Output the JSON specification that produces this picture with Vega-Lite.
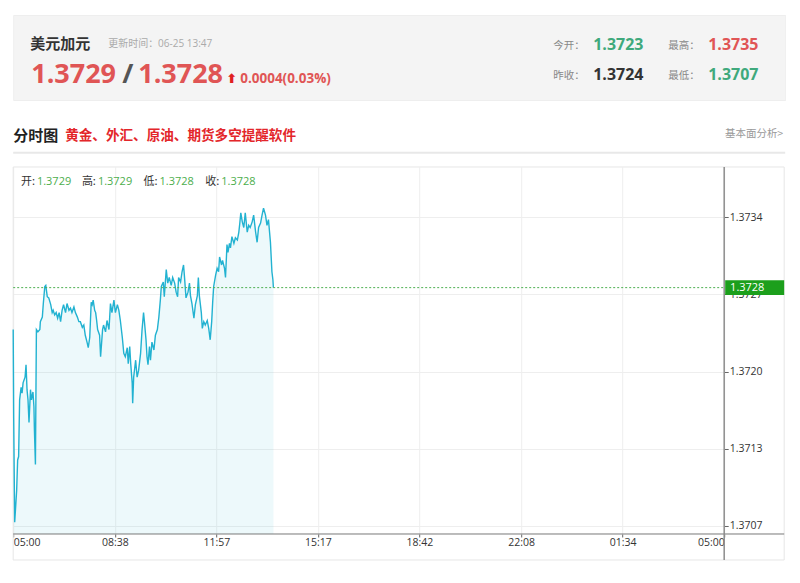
{
  "$schema": "https://vega.github.io/schema/vega-lite/v6.json",
  "background": "white",
  "padding": {"left": 10.2, "top": 14, "right": 0, "bottom": 0},
  "spacing": 0,
  "bounds": "flush",
  "config": {"view": {"stroke": null}, "axis": {"labelFont": "Open Sans"}},
  "datasets": {
    "quote": [{"symbol": "美元加元", "bid": 1.3729, "ask": 1.3728, "change": "0.0004(0.03%)", "open": 1.3723, "high": 1.3735, "prevClose": 1.3724, "low": 1.3707}],
    "candle": [{"o": 1.3729, "h": 1.3729, "l": 1.3728, "c": 1.3728}],
    "intraday": [
      {"minute": 0, "price": 1.37243}, {"minute": 1, "price": 1.37165}, {"minute": 3, "price": 1.37073}, {"minute": 7, "price": 1.37101},
      {"minute": 9, "price": 1.37128}, {"minute": 11, "price": 1.37131}, {"minute": 13, "price": 1.37181}, {"minute": 16, "price": 1.37192},
      {"minute": 18, "price": 1.37187}, {"minute": 20, "price": 1.37196}, {"minute": 24, "price": 1.37201}, {"minute": 26, "price": 1.37212},
      {"minute": 28, "price": 1.37190}, {"minute": 30, "price": 1.37181}, {"minute": 32, "price": 1.37161}, {"minute": 35, "price": 1.37190},
      {"minute": 37, "price": 1.37181}, {"minute": 40, "price": 1.37188}, {"minute": 42, "price": 1.37175}, {"minute": 43, "price": 1.37154},
      {"minute": 45, "price": 1.37124}, {"minute": 47, "price": 1.37243}, {"minute": 50, "price": 1.37241}, {"minute": 54, "price": 1.37243},
      {"minute": 55, "price": 1.37250}, {"minute": 59, "price": 1.37254}, {"minute": 61, "price": 1.37266}, {"minute": 64, "price": 1.37281},
      {"minute": 66, "price": 1.37282}, {"minute": 69, "price": 1.37272}, {"minute": 72, "price": 1.37271}, {"minute": 76, "price": 1.37265},
      {"minute": 79, "price": 1.37258}, {"minute": 81, "price": 1.37260}, {"minute": 84, "price": 1.37256}, {"minute": 87, "price": 1.37258},
      {"minute": 90, "price": 1.37253}, {"minute": 93, "price": 1.37258}, {"minute": 96, "price": 1.37250}, {"minute": 99, "price": 1.37260},
      {"minute": 102, "price": 1.37265}, {"minute": 106, "price": 1.37258}, {"minute": 109, "price": 1.37266}, {"minute": 113, "price": 1.37260},
      {"minute": 116, "price": 1.37262}, {"minute": 119, "price": 1.37258}, {"minute": 123, "price": 1.37263}, {"minute": 126, "price": 1.37258},
      {"minute": 130, "price": 1.37254}, {"minute": 133, "price": 1.37250}, {"minute": 136, "price": 1.37250}, {"minute": 140, "price": 1.37245},
      {"minute": 143, "price": 1.37247}, {"minute": 146, "price": 1.37238}, {"minute": 150, "price": 1.37231}, {"minute": 152, "price": 1.37227},
      {"minute": 155, "price": 1.37236}, {"minute": 158, "price": 1.37267}, {"minute": 160, "price": 1.37265}, {"minute": 162, "price": 1.37269},
      {"minute": 165, "price": 1.37260}, {"minute": 167, "price": 1.37258}, {"minute": 169, "price": 1.37251}, {"minute": 171, "price": 1.37243},
      {"minute": 175, "price": 1.37238}, {"minute": 177, "price": 1.37219}, {"minute": 179, "price": 1.37231}, {"minute": 181, "price": 1.37243},
      {"minute": 183, "price": 1.37247}, {"minute": 187, "price": 1.37241}, {"minute": 190, "price": 1.37251}, {"minute": 194, "price": 1.37243},
      {"minute": 197, "price": 1.37266}, {"minute": 200, "price": 1.37258}, {"minute": 204, "price": 1.37269}, {"minute": 207, "price": 1.37258},
      {"minute": 211, "price": 1.37265}, {"minute": 214, "price": 1.37260}, {"minute": 217, "price": 1.37251}, {"minute": 221, "price": 1.37236},
      {"minute": 224, "price": 1.37222}, {"minute": 227, "price": 1.37219}, {"minute": 231, "price": 1.37227}, {"minute": 233, "price": 1.37213},
      {"minute": 236, "price": 1.37228}, {"minute": 238, "price": 1.37213}, {"minute": 241, "price": 1.37196}, {"minute": 242, "price": 1.37178},
      {"minute": 244, "price": 1.37201}, {"minute": 248, "price": 1.37216}, {"minute": 251, "price": 1.37201}, {"minute": 254, "price": 1.37207},
      {"minute": 258, "price": 1.37222}, {"minute": 261, "price": 1.37243}, {"minute": 264, "price": 1.37258}, {"minute": 266, "price": 1.37249},
      {"minute": 269, "price": 1.37234}, {"minute": 271, "price": 1.37219}, {"minute": 273, "price": 1.37212}, {"minute": 276, "price": 1.37228},
      {"minute": 278, "price": 1.37216}, {"minute": 281, "price": 1.37232}, {"minute": 285, "price": 1.37225}, {"minute": 288, "price": 1.37238},
      {"minute": 292, "price": 1.37243}, {"minute": 295, "price": 1.37254}, {"minute": 298, "price": 1.37269}, {"minute": 300, "price": 1.37281},
      {"minute": 304, "price": 1.37285}, {"minute": 306, "price": 1.37272}, {"minute": 308, "price": 1.37284}, {"minute": 310, "price": 1.37296},
      {"minute": 313, "price": 1.37284}, {"minute": 316, "price": 1.37289}, {"minute": 320, "price": 1.37282}, {"minute": 323, "price": 1.37289},
      {"minute": 327, "price": 1.37284}, {"minute": 330, "price": 1.37276}, {"minute": 333, "price": 1.37272}, {"minute": 335, "price": 1.37289},
      {"minute": 339, "price": 1.37285}, {"minute": 342, "price": 1.37294}, {"minute": 345, "price": 1.37300}, {"minute": 347, "price": 1.37289},
      {"minute": 350, "price": 1.37271}, {"minute": 354, "price": 1.37276}, {"minute": 357, "price": 1.37284}, {"minute": 359, "price": 1.37273},
      {"minute": 362, "price": 1.37266}, {"minute": 366, "price": 1.37253}, {"minute": 369, "price": 1.37265}, {"minute": 373, "price": 1.37273},
      {"minute": 375, "price": 1.37289}, {"minute": 377, "price": 1.37273}, {"minute": 381, "price": 1.37258}, {"minute": 383, "price": 1.37244},
      {"minute": 386, "price": 1.37250}, {"minute": 389, "price": 1.37247}, {"minute": 393, "price": 1.37251}, {"minute": 396, "price": 1.37244},
      {"minute": 399, "price": 1.37234}, {"minute": 402, "price": 1.37250}, {"minute": 404, "price": 1.37267}, {"minute": 406, "price": 1.37281},
      {"minute": 410, "price": 1.37291}, {"minute": 413, "price": 1.37297}, {"minute": 416, "price": 1.37294}, {"minute": 418, "price": 1.37307},
      {"minute": 422, "price": 1.37300}, {"minute": 424, "price": 1.37304}, {"minute": 428, "price": 1.37297}, {"minute": 430, "price": 1.37289},
      {"minute": 433, "price": 1.37318}, {"minute": 435, "price": 1.37311}, {"minute": 438, "price": 1.37319}, {"minute": 440, "price": 1.37315},
      {"minute": 443, "price": 1.37325}, {"minute": 447, "price": 1.37319}, {"minute": 450, "price": 1.37324}, {"minute": 454, "price": 1.37322},
      {"minute": 457, "price": 1.37329}, {"minute": 459, "price": 1.37337}, {"minute": 461, "price": 1.37346}, {"minute": 464, "price": 1.37338},
      {"minute": 467, "price": 1.37333}, {"minute": 470, "price": 1.37346}, {"minute": 474, "price": 1.37329}, {"minute": 477, "price": 1.37335},
      {"minute": 480, "price": 1.37333}, {"minute": 484, "price": 1.37338}, {"minute": 487, "price": 1.37344}, {"minute": 491, "price": 1.37329},
      {"minute": 494, "price": 1.37320}, {"minute": 497, "price": 1.37333}, {"minute": 501, "price": 1.37337}, {"minute": 504, "price": 1.37344},
      {"minute": 507, "price": 1.37350}, {"minute": 511, "price": 1.37344}, {"minute": 514, "price": 1.37335}, {"minute": 517, "price": 1.37340},
      {"minute": 521, "price": 1.37320}, {"minute": 524, "price": 1.37294}, {"minute": 526, "price": 1.37287}, {"minute": 527, "price": 1.37280}
    ]
  },
  "vconcat": [
    {
      "width": 772,
      "height": 85,
      "view": {"fill": "#f4f4f4", "stroke": "#eeeeee"},
      "data": {"name": "quote"},
      "layer": [
        {"mark": {"type": "text", "align": "left", "baseline": "middle", "font": "Noto Sans CJK SC", "fontSize": 15, "fontWeight": "bold", "color": "#333333"},
         "encoding": {"x": {"datum": 17, "type": "quantitative", "scale": {"domain": [0, 772]}, "axis": null}, "y": {"datum": 28.5, "type": "quantitative", "scale": {"domain": [85, 0]}, "axis": null}, "text": {"field": "symbol"}}},
        {"mark": {"type": "text", "align": "left", "baseline": "middle", "font": "Open Sans, Noto Sans CJK SC", "fontSize": 10, "color": "#aaaaaa", "text": "更新时间：06-25 13:47"},
         "encoding": {"x": {"datum": 95, "type": "quantitative", "scale": {"domain": [0, 772]}, "axis": null}, "y": {"datum": 29, "type": "quantitative", "scale": {"domain": [85, 0]}, "axis": null}}},
        {"mark": {"type": "text", "align": "left", "baseline": "alphabetic", "font": "Open Sans", "fontSize": 27, "fontWeight": "bold", "color": "#e05555"},
         "encoding": {"x": {"datum": 18, "type": "quantitative", "scale": {"domain": [0, 772]}, "axis": null}, "y": {"datum": 68.3, "type": "quantitative", "scale": {"domain": [85, 0]}, "axis": null}, "text": {"field": "bid", "type": "quantitative", "format": ".4f"}}},
        {"mark": {"type": "text", "align": "left", "baseline": "alphabetic", "font": "Open Sans", "fontSize": 27, "fontWeight": "bold", "color": "#555555", "text": "/"},
         "encoding": {"x": {"datum": 109, "type": "quantitative", "scale": {"domain": [0, 772]}, "axis": null}, "y": {"datum": 68.3, "type": "quantitative", "scale": {"domain": [85, 0]}, "axis": null}}},
        {"mark": {"type": "text", "align": "left", "baseline": "alphabetic", "font": "Open Sans", "fontSize": 27, "fontWeight": "bold", "color": "#e05555"},
         "encoding": {"x": {"datum": 125, "type": "quantitative", "scale": {"domain": [0, 772]}, "axis": null}, "y": {"datum": 68.3, "type": "quantitative", "scale": {"domain": [85, 0]}, "axis": null}, "text": {"field": "ask", "type": "quantitative", "format": ".4f"}}},
        {"mark": {"type": "text", "align": "left", "baseline": "middle", "font": "DejaVu Sans", "fontSize": 13, "fontWeight": "bold", "color": "#e02020", "text": "⬆"},
         "encoding": {"x": {"datum": 213, "type": "quantitative", "scale": {"domain": [0, 772]}, "axis": null}, "y": {"datum": 64, "type": "quantitative", "scale": {"domain": [85, 0]}, "axis": null}}},
        {"mark": {"type": "text", "align": "left", "baseline": "alphabetic", "font": "Open Sans", "fontSize": 13.5, "fontWeight": "bold", "color": "#e05555"},
         "encoding": {"x": {"datum": 227, "type": "quantitative", "scale": {"domain": [0, 772]}, "axis": null}, "y": {"datum": 68, "type": "quantitative", "scale": {"domain": [85, 0]}, "axis": null}, "text": {"field": "change"}}},
        {"mark": {"type": "text", "align": "left", "baseline": "middle", "font": "Noto Sans CJK SC", "fontSize": 10.5, "color": "#888888", "text": "今开："},
         "encoding": {"x": {"datum": 540, "type": "quantitative", "scale": {"domain": [0, 772]}, "axis": null}, "y": {"datum": 30.5, "type": "quantitative", "scale": {"domain": [85, 0]}, "axis": null}}},
        {"mark": {"type": "text", "align": "left", "baseline": "middle", "font": "Open Sans", "fontSize": 16, "fontWeight": "bold", "color": "#3fa97c"},
         "encoding": {"x": {"datum": 580, "type": "quantitative", "scale": {"domain": [0, 772]}, "axis": null}, "y": {"datum": 29.5, "type": "quantitative", "scale": {"domain": [85, 0]}, "axis": null}, "text": {"field": "open", "type": "quantitative", "format": ".4f"}}},
        {"mark": {"type": "text", "align": "left", "baseline": "middle", "font": "Noto Sans CJK SC", "fontSize": 10.5, "color": "#888888", "text": "最高："},
         "encoding": {"x": {"datum": 655, "type": "quantitative", "scale": {"domain": [0, 772]}, "axis": null}, "y": {"datum": 30.5, "type": "quantitative", "scale": {"domain": [85, 0]}, "axis": null}}},
        {"mark": {"type": "text", "align": "left", "baseline": "middle", "font": "Open Sans", "fontSize": 16, "fontWeight": "bold", "color": "#e05555"},
         "encoding": {"x": {"datum": 695, "type": "quantitative", "scale": {"domain": [0, 772]}, "axis": null}, "y": {"datum": 29.5, "type": "quantitative", "scale": {"domain": [85, 0]}, "axis": null}, "text": {"field": "high", "type": "quantitative", "format": ".4f"}}},
        {"mark": {"type": "text", "align": "left", "baseline": "middle", "font": "Noto Sans CJK SC", "fontSize": 10.5, "color": "#888888", "text": "昨收："},
         "encoding": {"x": {"datum": 540, "type": "quantitative", "scale": {"domain": [0, 772]}, "axis": null}, "y": {"datum": 60.5, "type": "quantitative", "scale": {"domain": [85, 0]}, "axis": null}}},
        {"mark": {"type": "text", "align": "left", "baseline": "middle", "font": "Open Sans", "fontSize": 16, "fontWeight": "bold", "color": "#333333"},
         "encoding": {"x": {"datum": 580, "type": "quantitative", "scale": {"domain": [0, 772]}, "axis": null}, "y": {"datum": 59.5, "type": "quantitative", "scale": {"domain": [85, 0]}, "axis": null}, "text": {"field": "prevClose", "type": "quantitative", "format": ".4f"}}},
        {"mark": {"type": "text", "align": "left", "baseline": "middle", "font": "Noto Sans CJK SC", "fontSize": 10.5, "color": "#888888", "text": "最低："},
         "encoding": {"x": {"datum": 655, "type": "quantitative", "scale": {"domain": [0, 772]}, "axis": null}, "y": {"datum": 60.5, "type": "quantitative", "scale": {"domain": [85, 0]}, "axis": null}}},
        {"mark": {"type": "text", "align": "left", "baseline": "middle", "font": "Open Sans", "fontSize": 16, "fontWeight": "bold", "color": "#3fa97c"},
         "encoding": {"x": {"datum": 695, "type": "quantitative", "scale": {"domain": [0, 772]}, "axis": null}, "y": {"datum": 59.5, "type": "quantitative", "scale": {"domain": [85, 0]}, "axis": null}, "text": {"field": "low", "type": "quantitative", "format": ".4f"}}}
      ]
    },
    {
      "width": 772,
      "height": 67,
      "data": {"name": "quote"},
      "layer": [
        {"mark": {"type": "text", "align": "left", "baseline": "middle", "font": "Noto Sans CJK SC", "fontSize": 15, "fontWeight": "bold", "color": "#222222", "text": "分时图"},
         "encoding": {"x": {"datum": 0, "type": "quantitative", "scale": {"domain": [0, 772]}, "axis": null}, "y": {"datum": 35.5, "type": "quantitative", "scale": {"domain": [67, 0]}, "axis": null}}},
        {"mark": {"type": "text", "align": "left", "baseline": "middle", "font": "Noto Sans CJK SC", "fontSize": 13.6, "fontWeight": "bold", "color": "#e3262a", "text": "黄金、外汇、原油、期货多空提醒软件"},
         "encoding": {"x": {"datum": 52, "type": "quantitative", "scale": {"domain": [0, 772]}, "axis": null}, "y": {"datum": 35.5, "type": "quantitative", "scale": {"domain": [67, 0]}, "axis": null}}},
        {"mark": {"type": "text", "align": "right", "baseline": "middle", "font": "Noto Sans CJK SC", "fontSize": 10.5, "color": "#999999", "text": "基本面分析>"},
         "encoding": {"x": {"datum": 770, "type": "quantitative", "scale": {"domain": [0, 772]}, "axis": null}, "y": {"datum": 34, "type": "quantitative", "scale": {"domain": [67, 0]}, "axis": null}}},
        {"mark": {"type": "rule", "color": "#e8e8e8", "strokeWidth": 2},
         "encoding": {"y": {"datum": 52.7, "type": "quantitative", "scale": {"domain": [67, 0]}, "axis": null}}}
      ]
    },
    {
      "width": 711,
      "height": 367,
      "layer": [
        {"data": {"name": "intraday"},
         "mark": {"type": "area", "color": "#1eaed0", "opacity": 0.08},
         "encoding": {
           "x": {"field": "minute", "type": "quantitative", "scale": {"domain": [0, 1440], "nice": false, "zero": false},
                 "axis": {"title": null, "values": [0, 205.7143, 411.4286, 617.1429, 822.8571, 1028.5714, 1234.2857, 1440],
                          "labelExpr": "['05:00','08:38','11:57','15:17','18:42','22:08','01:34','05:00'][round(datum.value*7/1440)]",
                          "grid": true, "gridColor": "#eeeeee", "domain": false, "ticks": true, "tickSize": 3, "tickColor": "#666666",
                          "labelFlush": true, "labelFontSize": 10.5, "labelColor": "#333333", "labelPadding": 1}},
           "y": {"field": "price", "type": "quantitative", "scale": {"domain": [1.370627, 1.373864], "nice": false, "zero": false},
                 "axis": {"title": null, "orient": "right", "values": [1.3707, 1.37138, 1.37206, 1.37274, 1.37342],
                          "labelExpr": "format(floor(datum.value*10000+0.0001)/10000, '.4f')",
                          "grid": true, "gridColor": "#eeeeee", "domain": false, "ticks": true, "tickSize": 4, "tickColor": "#666666",
                          "labelFontSize": 10.5, "labelColor": "#333333", "labelPadding": 1}},
           "y2": {"datum": 1.370627}}},
        {"data": {"name": "candle"},
         "mark": {"type": "rect", "fill": "transparent", "stroke": "#e6e6e6", "strokeWidth": 1},
         "encoding": {"x": {"datum": 0, "type": "quantitative"}, "x2": {"datum": 1561.5}, "y": {"datum": 1.373864, "type": "quantitative"}, "y2": {"datum": 1.3703975}}},
        {"data": {"name": "intraday"},
         "mark": {"type": "line", "color": "#22b2d1", "strokeWidth": 1.4},
         "encoding": {"x": {"field": "minute", "type": "quantitative"}, "y": {"field": "price", "type": "quantitative"}}},
        {"data": {"name": "candle"},
         "mark": {"type": "rule", "color": "#4caf50", "strokeDash": [2, 2], "strokeWidth": 1},
         "encoding": {"x": {"datum": 0, "type": "quantitative"}, "x2": {"datum": 1440}, "y": {"field": "c", "type": "quantitative"}}},
        {"data": {"name": "candle"},
         "mark": {"type": "rule", "color": "#777777", "strokeWidth": 1},
         "encoding": {"x": {"datum": 0, "type": "quantitative"}, "x2": {"datum": 1561.5}, "y": {"datum": 1.370627, "type": "quantitative"}}},
        {"data": {"name": "candle"},
         "mark": {"type": "rule", "color": "#8c8c8c", "strokeWidth": 1.5},
         "encoding": {"x": {"datum": 1440, "type": "quantitative"}, "y": {"datum": 1.373864, "type": "quantitative"}, "y2": {"datum": 1.3703975}}},
        {"data": {"name": "candle"},
         "mark": {"type": "rect", "color": "#1c9f1c"},
         "encoding": {"x": {"datum": 1442, "type": "quantitative"}, "x2": {"datum": 1561.5}, "y": {"datum": 1.372866, "type": "quantitative"}, "y2": {"datum": 1.372734}}},
        {"data": {"name": "candle"},
         "mark": {"type": "text", "align": "left", "baseline": "middle", "font": "Open Sans", "fontSize": 11, "color": "white"},
         "encoding": {"x": {"datum": 1452, "type": "quantitative"}, "y": {"field": "c", "type": "quantitative"}, "text": {"field": "c", "type": "quantitative", "format": ".4f"}}},
        {"data": {"name": "candle"},
         "mark": {"type": "text", "align": "left", "baseline": "middle", "font": "Noto Sans CJK SC", "fontSize": 11, "color": "#333333", "text": "开:"},
         "encoding": {"x": {"datum": 15.6, "type": "quantitative"}, "y": {"datum": 1.373734, "type": "quantitative"}}},
        {"data": {"name": "candle"},
         "mark": {"type": "text", "align": "left", "baseline": "middle", "font": "Open Sans", "fontSize": 11, "color": "#4cae4c"},
         "encoding": {"x": {"datum": 48, "type": "quantitative"}, "y": {"datum": 1.373734, "type": "quantitative"}, "text": {"field": "o", "type": "quantitative", "format": ".4f"}}},
        {"data": {"name": "candle"},
         "mark": {"type": "text", "align": "left", "baseline": "middle", "font": "Noto Sans CJK SC", "fontSize": 11, "color": "#333333", "text": "高:"},
         "encoding": {"x": {"datum": 139.1, "type": "quantitative"}, "y": {"datum": 1.373734, "type": "quantitative"}}},
        {"data": {"name": "candle"},
         "mark": {"type": "text", "align": "left", "baseline": "middle", "font": "Open Sans", "fontSize": 11, "color": "#4cae4c"},
         "encoding": {"x": {"datum": 171.5, "type": "quantitative"}, "y": {"datum": 1.373734, "type": "quantitative"}, "text": {"field": "h", "type": "quantitative", "format": ".4f"}}},
        {"data": {"name": "candle"},
         "mark": {"type": "text", "align": "left", "baseline": "middle", "font": "Noto Sans CJK SC", "fontSize": 11, "color": "#333333", "text": "低:"},
         "encoding": {"x": {"datum": 263.9, "type": "quantitative"}, "y": {"datum": 1.373734, "type": "quantitative"}}},
        {"data": {"name": "candle"},
         "mark": {"type": "text", "align": "left", "baseline": "middle", "font": "Open Sans", "fontSize": 11, "color": "#4cae4c"},
         "encoding": {"x": {"datum": 296.3, "type": "quantitative"}, "y": {"datum": 1.373734, "type": "quantitative"}, "text": {"field": "l", "type": "quantitative", "format": ".4f"}}},
        {"data": {"name": "candle"},
         "mark": {"type": "text", "align": "left", "baseline": "middle", "font": "Noto Sans CJK SC", "fontSize": 11, "color": "#333333", "text": "收:"},
         "encoding": {"x": {"datum": 388.9, "type": "quantitative"}, "y": {"datum": 1.373734, "type": "quantitative"}}},
        {"data": {"name": "candle"},
         "mark": {"type": "text", "align": "left", "baseline": "middle", "font": "Open Sans", "fontSize": 11, "color": "#4cae4c"},
         "encoding": {"x": {"datum": 421.3, "type": "quantitative"}, "y": {"datum": 1.373734, "type": "quantitative"}, "text": {"field": "c", "type": "quantitative", "format": ".4f"}}}
      ]
    }
  ]
}
